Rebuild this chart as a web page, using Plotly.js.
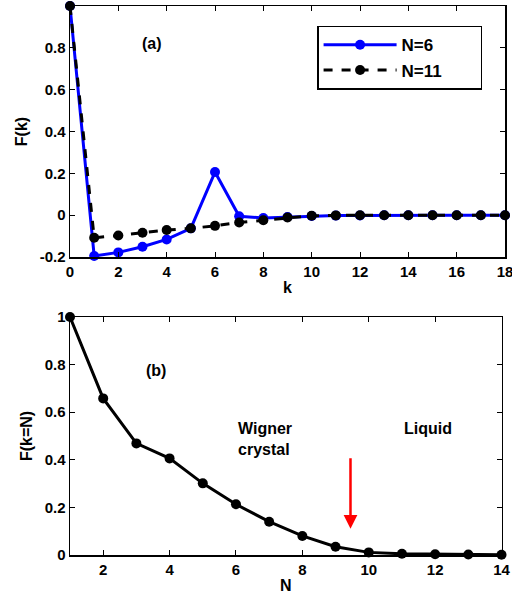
<!DOCTYPE html>
<html><head><meta charset="utf-8">
<script src="https://cdn.plot.ly/plotly-3.0.1.min.js"></script>
<style>body{margin:0;padding:0;background:#fff}#chart{width:512px;height:601px}</style>
</head><body><div id="chart"></div>
<script>
const kVals = [0,1,2,3,4,5,6,7,8,9,10,11,12,13,14,15,16,17,18];
const fN6 = [1,-0.195,-0.178,-0.151,-0.116,-0.063,0.206,-0.005,-0.014,-0.009,-0.004,-0.002,-0.001,0,0,0,0,0,0];
const fN11 = [1,-0.108,-0.097,-0.084,-0.071,-0.063,-0.051,-0.035,-0.024,-0.011,-0.003,-0.001,0,0,0,0,0,0,0];
const nVals = [1,2,3,4,5,6,7,8,9,10,11,12,13,14];
const fKN = [1,0.658,0.469,0.406,0.301,0.213,0.14,0.08,0.035,0.011,0.005,0.003,0.002,0.001];
const topXTicks = [0,2,4,6,8,10,12,14,16,18];
const topYTicks = [-0.2,0,0.2,0.4,0.6,0.8];
const topYText = ['-0.2','0','0.2','0.4','0.6','0.8'];
const botXTicks = [2,4,6,8,10,12,14];
const botYTicks = [0,0.2,0.4,0.6,0.8,1];
const botYText = ['0','0.2','0.4','0.6','0.8','1'];
const seriesNames = ['N=6', 'N=11'];

const F = 'Liberation Sans, Arial, sans-serif';
const tickFont = {family: F, size: 15, color: '#000', weight: 'bold'};
const titleFont = {family: F, size: 16, color: '#000', weight: 'bold'};
const annFont = {family: F, size: 16, color: '#000', weight: 'bold'};
const pad = '\u00a0'.repeat(7);

const traces = [
  {x: kVals, y: fN6, xaxis: 'x', yaxis: 'y', mode: 'lines+markers', name: seriesNames[0] + pad,
   line: {color: '#0000ff', width: 3}, marker: {color: '#0000ff', size: 10}, cliponaxis: false},
  {x: kVals, y: fN11, xaxis: 'x', yaxis: 'y', mode: 'lines+markers', name: seriesNames[1] + pad,
   line: {color: '#000', width: 3, dash: 'dash'}, marker: {color: '#000', size: 10}, cliponaxis: false},
  {x: nVals, y: fKN, xaxis: 'x2', yaxis: 'y2', mode: 'lines+markers', showlegend: false,
   line: {color: '#000', width: 3}, marker: {color: '#000', size: 10}, cliponaxis: false}
];

const axCommon = {showline: true, mirror: 'ticks', linecolor: '#000', linewidth: 1.5,
  ticks: 'inside', ticklen: 5, tickcolor: '#000', tickwidth: 1, showgrid: false, zeroline: false,
  tickfont: tickFont, ticklabeloverflow: 'allow'};

const layout = {
  width: 512, height: 601,
  margin: {l: 70, r: 7, t: 6, b: 46},
  paper_bgcolor: '#fff', plot_bgcolor: '#fff',
  showlegend: true,
  legend: {x: 0.568, y: 0.964, xanchor: 'left', yanchor: 'top', bordercolor: '#000', borderwidth: 1.5,
    bgcolor: '#fff', font: {family: F, size: 17, color: '#000', weight: 'bold'}, itemwidth: 73,
    tracegroupgap: 0},
  xaxis: Object.assign({}, axCommon, {domain: [0, 1], range: [0, 18], tickvals: topXTicks, anchor: 'y',
    title: {text: 'k', font: titleFont, standoff: 3}}),
  yaxis: Object.assign({}, axCommon, {domain: [0.5428, 1], range: [-0.2, 1], tickvals: topYTicks, ticktext: topYText, anchor: 'x',
    title: {text: 'F(k)', font: titleFont, standoff: 8}}),
  xaxis2: Object.assign({}, axCommon, {domain: [0, 0.992], range: [1, 14], tickvals: botXTicks, anchor: 'y2',
    title: {text: 'N', font: titleFont, standoff: 3}}),
  yaxis2: Object.assign({}, axCommon, {domain: [0, 0.4335], range: [0, 1], tickvals: botYTicks, ticktext: botYText, anchor: 'x2',
    title: {text: 'F(k=N)', font: titleFont, standoff: 8}}),
  annotations: [
    {xref: 'x', yref: 'y', x: 3.4, y: 0.82, text: '(a)', showarrow: false, font: annFont},
    {xref: 'x2', yref: 'y2', x: 3.6, y: 0.777, text: '(b)', showarrow: false, font: annFont},
    {xref: 'x2', yref: 'y2', x: 6.0, y: 0.487, xanchor: 'left', align: 'left', text: 'Wigner<br>crystal', showarrow: false,
     font: annFont},
    {xref: 'x2', yref: 'y2', x: 11.8, y: 0.533, text: 'Liquid', showarrow: false, font: annFont},
    {xref: 'x2', yref: 'y2', axref: 'x2', ayref: 'y2', x: 9.45, y: 0.11, ax: 9.45, ay: 0.413, text: '',
     showarrow: true, arrowhead: 2, arrowsize: 1.1, arrowwidth: 2.5, arrowcolor: '#ff0000'}
  ]
};
Plotly.newPlot('chart', traces, layout, {displayModeBar: false, staticPlot: true});
</script></body></html>
